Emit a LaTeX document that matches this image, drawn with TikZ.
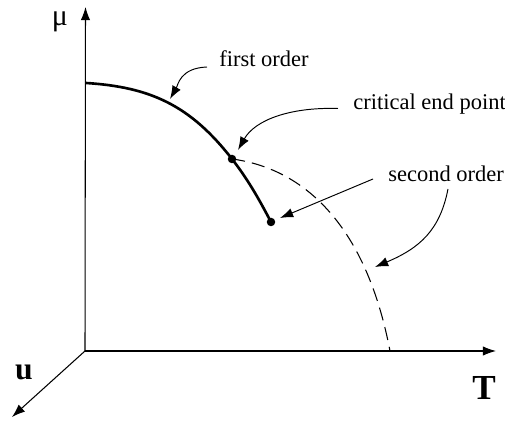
\documentclass[tikz,border=0pt]{standalone}
\usepackage{fontspec}
\setmainfont{Liberation Serif}
\usetikzlibrary{arrows.meta, positioning}

\begin{document}
\begin{tikzpicture}[x=0.02cm, y=-0.02cm, >={Latex[length=7.5pt, width=5.4pt]},
    axis/.style={->, line width=0.6pt},
    note/.style={->, line width=0.55pt},
    lbl/.style={font=\fontsize{12.8}{15}\selectfont, inner sep=0pt, anchor=base west},
    big/.style={font=\fontsize{20}{24}\selectfont\bfseries, inner sep=0pt},
    pt/.style={circle, fill, inner sep=0pt, minimum size=0.17cm}]
  \useasboundingbox (0,0) rectangle (505,421);
  \coordinate (o) at (85,351);
  \coordinate (mutip) at (85.5,7);
  \coordinate (ttip) at (496,351);
  \coordinate (utip) at (12,417);
  \draw[axis] (o) -- (mutip);
  \draw[axis] (o) -- (ttip);
  \draw[axis] (o) -- (utip);
  \node[font=\fontsize{17}{19}\selectfont, inner sep=0pt] (mu) at (60,22) {μ};
  \node[big] (tlab) at (484,388) {T};
  \node[big, font=\fontsize{18}{22}\selectfont\bfseries] (ulab) at (24,372) {u};

  \coordinate (start) at (86,83);
  \node[pt] (cep) at (232,159) {};
  \node[pt] (tcp) at (271,222) {};
  \draw[line width=1.5pt] (start) .. controls (150,87) and (190,105) .. (cep.center)
    .. controls (250,182) and (262,205) .. (tcp.center);
  \coordinate (tx) at (390,351);
  \draw[line width=0.6pt, dash pattern=on 7.5pt off 4pt] (cep.center) .. controls (300,168) and (365,220) .. (tx);

  \node[lbl] (first) at (219,67) {first order};
  \node[lbl] (crit) at (353,110) {critical end point};
  \node[lbl] (second) at (388,182) {second order};

  \coordinate (a1) at (170,99);
  \coordinate (a2) at (238,150);
  \coordinate (a3) at (280,218);
  \coordinate (a4) at (375,267);
  \draw[note] ([xshift=-12*0.02cm]first.base west) .. controls (180,68) and (178,85) .. (a1);
  \draw[note] ([xshift=-15*0.02cm, yshift=1.5*0.02cm]crit.base west) .. controls (290,107) and (255,120) .. (a2);
  \draw[note] ([xshift=-15*0.02cm, yshift=3*0.02cm]second.base west) -- (a3);
  \draw[note] ([xshift=60*0.02cm, yshift=-7*0.02cm]second.base west) .. controls (440,230) and (420,248) .. (a4);
\end{tikzpicture}
\end{document}
